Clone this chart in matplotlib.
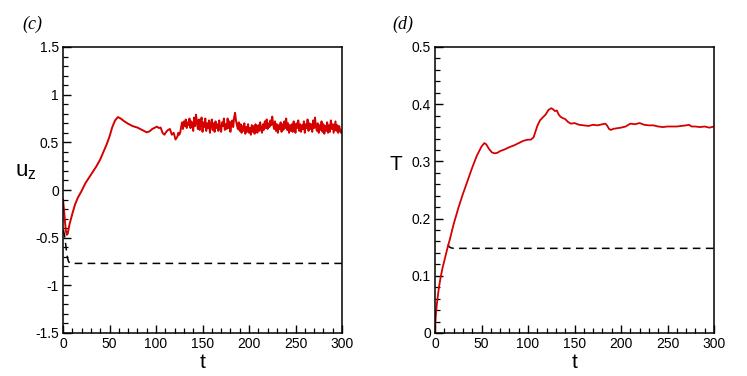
"""Time histories of u_z and T (panels c and d)."""

import matplotlib

matplotlib.use("Agg")
import matplotlib.pyplot as plt
import numpy as np
from matplotlib.ticker import MultipleLocator

plt.rcParams["font.family"] = ["Liberation Sans", "DejaVu Sans"]
plt.rcParams["mathtext.fontset"] = "custom"
plt.rcParams["mathtext.rm"] = "Liberation Sans"
plt.rcParams["mathtext.it"] = "Liberation Sans"

RED = "#d50000"

# ---- panel (c): u_z ----
uz_t_start = [0, 1, 2, 3, 4, 5, 7, 10, 13, 16, 20, 24, 28, 32, 36, 40, 44, 47,
              50, 53, 56, 59, 62, 66, 70, 75, 80, 85, 90, 93, 96, 99, 101, 103,
              105, 107, 109, 111, 113, 115, 117, 119, 121, 123, 124, 125]
uz_start = [-0.10, -0.20, -0.32, -0.42, -0.47, -0.46, -0.36, -0.25, -0.15, -0.08,
            -0.01, 0.07, 0.13, 0.19, 0.25, 0.32, 0.41, 0.48, 0.56, 0.66, 0.73,
            0.765, 0.75, 0.72, 0.695, 0.67, 0.655, 0.63, 0.605, 0.615, 0.64,
            0.655, 0.665, 0.65, 0.655, 0.60, 0.58, 0.61, 0.63, 0.64, 0.58, 0.60,
            0.53, 0.56, 0.60, 0.58]

# noisy plateau, one value per time unit from t = 126 to t = 300
uz_noisy = [
    0.60, 0.66, 0.71, 0.64, 0.72, 0.67, 0.74, 0.65, 0.71, 0.68,
    0.75, 0.65, 0.72, 0.69, 0.62, 0.76, 0.67, 0.79, 0.71, 0.64,
    0.74, 0.63, 0.70, 0.76, 0.61, 0.71, 0.66, 0.75, 0.62, 0.70,
    0.65, 0.73, 0.60, 0.69, 0.74, 0.63, 0.70, 0.61, 0.72, 0.65,
    0.69, 0.62, 0.73, 0.65, 0.61, 0.71, 0.67, 0.75, 0.63, 0.69,
    0.64, 0.75, 0.65, 0.72, 0.61, 0.69, 0.73, 0.66, 0.76, 0.81,
    0.73, 0.68, 0.64, 0.71, 0.62, 0.69, 0.60, 0.67, 0.62, 0.70,
    0.59, 0.66, 0.61, 0.69, 0.60, 0.65, 0.58, 0.68, 0.61, 0.67,
    0.59, 0.69, 0.63, 0.60, 0.68, 0.62, 0.71, 0.64, 0.60, 0.69,
    0.63, 0.72, 0.65, 0.74, 0.64, 0.70, 0.66, 0.73, 0.68, 0.77,
    0.69, 0.64, 0.72, 0.62, 0.69, 0.60, 0.68, 0.64, 0.71, 0.61,
    0.69, 0.63, 0.72, 0.65, 0.75, 0.63, 0.70, 0.60, 0.68, 0.62,
    0.69, 0.61, 0.72, 0.64, 0.60, 0.70, 0.65, 0.73, 0.62, 0.69,
    0.61, 0.68, 0.64, 0.72, 0.60, 0.69, 0.65, 0.74, 0.62, 0.70,
    0.64, 0.69, 0.61, 0.73, 0.65, 0.76, 0.66, 0.62, 0.70, 0.60,
    0.68, 0.63, 0.72, 0.61, 0.69, 0.59, 0.67, 0.62, 0.71, 0.60,
    0.68, 0.61, 0.73, 0.64, 0.69, 0.60, 0.66, 0.72, 0.62, 0.68,
    0.60, 0.67, 0.63, 0.60, 0.63,
]
uz_t_noisy = np.arange(126, 126 + len(uz_noisy))

uz_ref_t = [0.5, 2, 3, 4, 5, 6, 7.5, 300]
uz_ref = [-0.42, -0.50, -0.58, -0.665, -0.72, -0.75, -0.77, -0.77]

# ---- panel (d): T ----
T_t = [0, 0.5, 1, 2, 3, 4, 6, 8, 10, 13, 16, 20, 25, 30, 35, 40, 45, 50, 53,
       55, 58, 61, 64, 67, 70, 75, 80, 85, 90, 95, 100, 103, 106, 108, 110,
       113, 116, 119, 122, 125, 127, 129, 131, 133, 135, 137, 140, 143, 146,
       150, 155, 160, 165, 170, 175, 180, 183, 185, 187, 189, 192, 196, 200,
       205, 210, 215, 220, 225, 230, 235, 240, 245, 250, 255, 260, 265, 270,
       273, 276, 280, 285, 290, 295, 300]
T_vals = [0.0, 0.02, 0.033, 0.05, 0.064, 0.077, 0.097, 0.113, 0.126, 0.146,
          0.164, 0.19, 0.218, 0.243, 0.266, 0.289, 0.31, 0.326, 0.332, 0.330,
          0.322, 0.316, 0.314, 0.315, 0.318, 0.321, 0.325, 0.328, 0.332,
          0.336, 0.338, 0.338, 0.342, 0.352, 0.362, 0.372, 0.377, 0.382,
          0.390, 0.393, 0.391, 0.388, 0.389, 0.382, 0.378, 0.376, 0.374,
          0.369, 0.366, 0.367, 0.364, 0.363, 0.362, 0.364, 0.363, 0.365,
          0.366, 0.363, 0.357, 0.355, 0.357, 0.358, 0.359, 0.361, 0.366,
          0.365, 0.367, 0.364, 0.363, 0.363, 0.361, 0.360, 0.361, 0.361,
          0.361, 0.362, 0.363, 0.364, 0.361, 0.361, 0.360, 0.361, 0.359, 0.361]

T_ref_t = [14, 15, 17, 20, 300]
T_ref = [0.155, 0.151, 0.149, 0.148, 0.148]


def style_axes(ax, ymin, ymax, ymajor, yminor):
    ax.set_xlim(0, 300)
    ax.set_ylim(ymin, ymax)
    ax.xaxis.set_major_locator(MultipleLocator(50))
    ax.xaxis.set_minor_locator(MultipleLocator(10))
    ax.yaxis.set_major_locator(MultipleLocator(ymajor))
    ax.yaxis.set_minor_locator(MultipleLocator(yminor))
    ax.tick_params(which="major", direction="in", top=False, right=False,
                   labelsize=10, width=1.0, pad=3, length=6)
    ax.tick_params(which="minor", direction="in", top=False, right=False,
                   width=0.9, length=3.5)
    for sp in ax.spines.values():
        sp.set_linewidth(1.1)
    ax.set_xlabel("t", fontsize=15, labelpad=1)


fig = plt.figure(figsize=(7.47, 3.76), dpi=100)
ax_c = fig.add_axes([63 / 747, 43 / 376, 279 / 747, 286 / 376])
ax_d = fig.add_axes([435 / 747, 43 / 376, 279 / 747, 286 / 376])

uz_t = np.concatenate([uz_t_start, uz_t_noisy])
uz = np.concatenate([uz_start, uz_noisy])
ax_c.plot(uz_ref_t, uz_ref, color="black", lw=1.1, ls=(0, (5, 3.5)))
ax_c.plot(uz_t, uz, color=RED, lw=1.4)
style_axes(ax_c, -1.5, 1.5, 0.5, 0.1)
ax_c.set_yticks(ax_c.get_yticks(), [("%g" % v) for v in ax_c.get_yticks()])
ax_c.set_ylim(-1.5, 1.5)
ax_c.text(-0.135, 0.565, r"$\mathregular{u_z}$", transform=ax_c.transAxes,
          fontsize=16, ha="center", va="center")
ax_c.text(-0.11, 1.08, "(c)", transform=ax_c.transAxes, fontsize=13,
          family=["Liberation Serif"], style="italic", ha="center", va="center")

ax_d.plot(T_ref_t, T_ref, color="black", lw=1.1, ls=(0, (5, 3.5)))
ax_d.plot(T_t, T_vals, color=RED, lw=1.3)
style_axes(ax_d, 0, 0.5, 0.1, 0.02)
ax_d.set_yticks(ax_d.get_yticks(), [("%g" % v) for v in ax_d.get_yticks()])
ax_d.set_ylim(0, 0.5)
ax_d.text(-0.14, 0.59, "T", transform=ax_d.transAxes, fontsize=15,
          ha="center", va="center")
ax_d.text(-0.115, 1.08, "(d)", transform=ax_d.transAxes, fontsize=13,
          family=["Liberation Serif"], style="italic", ha="center", va="center")

fig.savefig("out.png", dpi=100)
